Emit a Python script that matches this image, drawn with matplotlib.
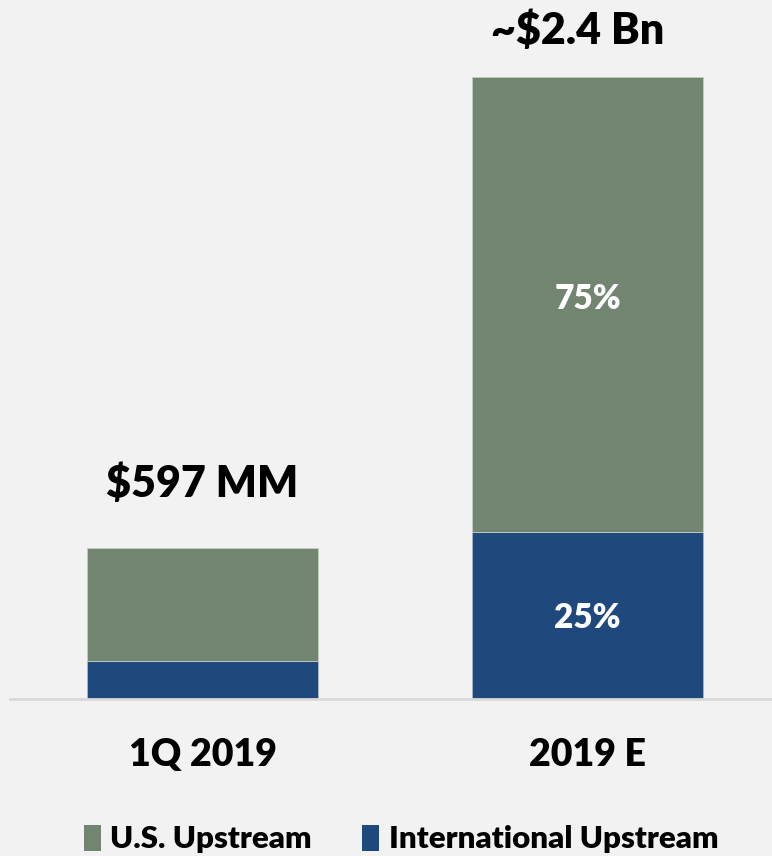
import matplotlib
matplotlib.use("Agg")
import matplotlib.pyplot as plt
from matplotlib.patches import Patch

# data (US$ MM)
categories = ["1Q 2019", "2019 E"]
intl_upstream = [147, 645]
us_upstream = [436, 1755]
total_labels = ["$597 MM", "~$2.4 Bn"]
share_labels = [None, ("75%", "25%")]

BG = "#F2F2F2"
US_COLOR = "#718571"
INTL_COLOR = "#1F497D"

plt.rcParams['font.family'] = ['Lato', 'DejaVu Sans']

fig = plt.figure(figsize=(7.72, 8.56), dpi=100, facecolor=BG)
ax = fig.add_axes([10 / 772, 157 / 856, 762 / 772, 622 / 856], facecolor=BG)

x = list(range(len(categories)))
ax.bar(x, intl_upstream, width=0.6, color=INTL_COLOR, edgecolor="#A9B8CC", linewidth=0.6)
ax.bar(x, us_upstream, width=0.6, bottom=intl_upstream, color=US_COLOR,
       edgecolor="#C5CEC5", linewidth=0.6)

ax.set_xlim(-0.5, 1.479)
ax.set_ylim(0, 2400)

# offset of the total label from the bar top, in points
label_offset = [(0, 46), (-7, 33)]
for xi, intl, us, lab, share, off in zip(x, intl_upstream, us_upstream, total_labels,
                                         share_labels, label_offset):
    total = intl + us
    ax.annotate(lab, (xi, total), xytext=off, textcoords="offset points",
                ha="center", va="center", fontsize=31, fontweight="heavy",
                color="black", annotation_clip=False)
    if share:
        ax.text(xi, intl + us / 2 + 20, share[0], ha="center", va="center", fontsize=24,
                fontweight="heavy", color="white")
        ax.text(xi, intl / 2 - 10, share[1], ha="center", va="center", fontsize=24,
                fontweight="heavy", color="white")

for s in ["top", "right", "left"]:
    ax.spines[s].set_visible(False)
ax.spines["bottom"].set_color("#D9D9D9")
ax.spines["bottom"].set_linewidth(2)
ax.set_yticks([])
ax.set_xticks(x)
ax.set_xticklabels(categories, fontsize=27, fontweight="heavy")
ax.tick_params(axis="x", length=0, pad=28)

handles = [Patch(facecolor=US_COLOR, label="U.S. Upstream"),
           Patch(facecolor=INTL_COLOR, label="International Upstream")]
leg = fig.legend(handles=handles, loc="center", bbox_to_anchor=(401 / 772, 17 / 856), ncol=2,
                 frameon=False, handlelength=0.55, handleheight=0.9, handletextpad=0.3,
                 columnspacing=1.6, prop={"size": 22.5, "weight": "heavy"})

fig.savefig("out.png", dpi=100, facecolor=BG)
